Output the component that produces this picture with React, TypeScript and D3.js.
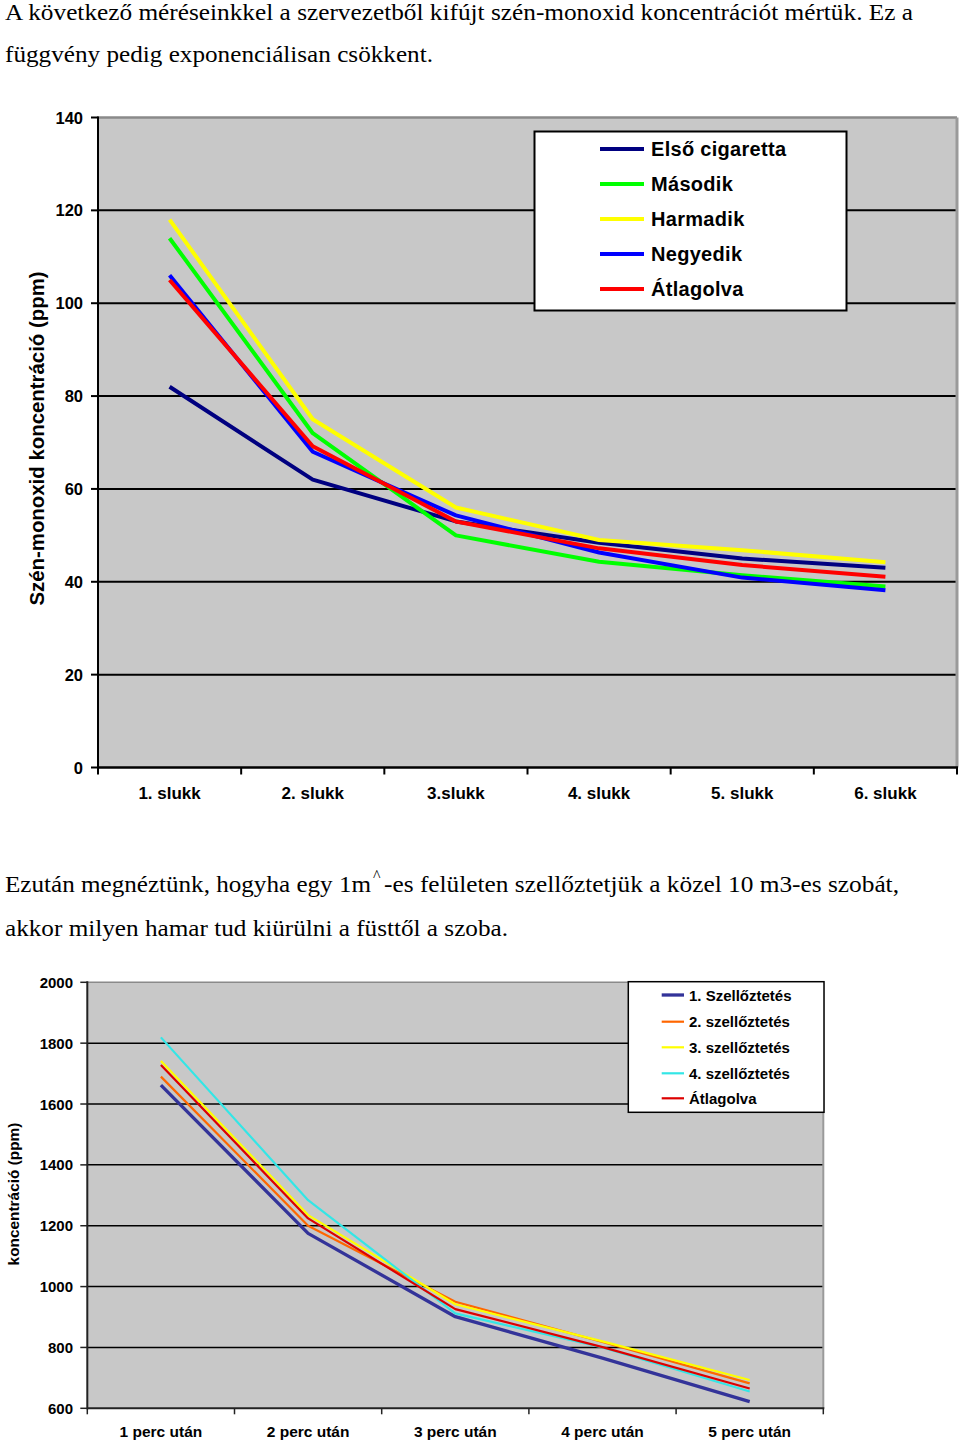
import React from "react";
import * as d3 from "d3";

// ---------- Data: chart 1 ----------
const puffs = ["1. slukk", "2. slukk", "3.slukk", "4. slukk", "5. slukk", "6. slukk"];
const elso = [82, 62, 53, 48.4, 45, 43];
const masodik = [114, 72, 50, 44.3, 41.4, 39];
const harmadik = [118, 75, 56, 49, 46.8, 44.2];
const negyedik = [106, 68, 54.3, 46.3, 40.9, 38.2];
const atlag1 = [105, 69.2, 53, 47.2, 43.6, 41.1];
const yTicks1 = [0, 20, 40, 60, 80, 100, 120, 140];

// ---------- Data: chart 2 ----------
const minutes = ["1 perc után", "2 perc után", "3 perc után", "4 perc után", "5 perc után"];
const szell1 = [1662, 1175, 901, 765, 622];
const szell2 = [1690, 1200, 950, 818, 682];
const szell3 = [1741, 1235, 942, 820, 693];
const szell4 = [1819, 1284, 912, 800, 655];
const atlag2 = [1728, 1224, 926, 801, 665];
const yTicks2 = [600, 800, 1000, 1200, 1400, 1600, 1800, 2000];

const series1 = [
  { name: "Első cigaretta", values: elso, color: "#000080" },
  { name: "Második", values: masodik, color: "#00ff00" },
  { name: "Harmadik", values: harmadik, color: "#ffff00" },
  { name: "Negyedik", values: negyedik, color: "#0000ff" },
  { name: "Átlagolva", values: atlag1, color: "#ff0000" },
];

const series2 = [
  { name: "1. Szellőztetés", values: szell1, color: "#333399", w: 3.3 },
  { name: "2. szellőztetés", values: szell2, color: "#ff6600", w: 2.2 },
  { name: "3. szellőztetés", values: szell3, color: "#ffff00", w: 2.2 },
  { name: "4. szellőztetés", values: szell4, color: "#33e6e6", w: 2.2 },
  { name: "Átlagolva", values: atlag2, color: "#dd0000", w: 2.2 },
];

const SANS = "'Liberation Sans', Arial, sans-serif";
const SERIF = "'Liberation Serif', 'Times New Roman', serif";

function Chart1() {
  const L = 98, R = 957, T = 117.5, B = 767.5;
  const x = d3.scaleBand<string>().domain(puffs).range([L, R]).padding(0);
  const y = d3.scaleLinear().domain([0, 140]).range([B, T]);
  const line = d3
    .line<number>()
    .x((_, i) => (x(puffs[i]) as number) + x.bandwidth() / 2)
    .y((d) => y(d));
  const bounds = puffs.map((p) => x(p) as number).concat([R]);
  return (
    <g>
      <rect x={L} y={T} width={R - L} height={B - T} fill="#c8c8c8" />
      {yTicks1
        .filter((t) => t > 0 && t < 140)
        .map((t) => (
          <line key={t} x1={L} x2={R} y1={y(t)} y2={y(t)} stroke="#000" strokeWidth={2} />
        ))}
      <line x1={L} x2={R} y1={T} y2={T} stroke="#8a8a8a" strokeWidth={2.5} />
      <line x1={R} x2={R} y1={T} y2={B} stroke="#9a9a9a" strokeWidth={3} />
      {series1.map((s) => (
        <path
          key={s.name}
          d={line(s.values) as string}
          fill="none"
          stroke={s.color}
          strokeWidth={4}
          strokeLinejoin="round"
        />
      ))}
      <line x1={L} x2={L} y1={T - 1} y2={B + 1} stroke="#000" strokeWidth={2} />
      <line x1={L} x2={R + 1} y1={B} y2={B} stroke="#000" strokeWidth={2.5} />
      {yTicks1.map((t) => (
        <g key={t}>
          <line x1={L - 7} x2={L} y1={y(t)} y2={y(t)} stroke="#000" strokeWidth={2} />
          <text
            x={83}
            y={y(t)}
            textAnchor="end"
            dominantBaseline="central"
            fontFamily={SANS}
            fontWeight="bold"
            fontSize={16.5}
          >
            {t}
          </text>
        </g>
      ))}
      {bounds.map((b, i) => (
        <line key={i} x1={b} x2={b} y1={B} y2={B + 7} stroke="#000" strokeWidth={2} />
      ))}
      {puffs.map((p) => (
        <text
          key={p}
          x={(x(p) as number) + x.bandwidth() / 2}
          y={799}
          textAnchor="middle"
          fontFamily={SANS}
          fontWeight="bold"
          fontSize={17}
        >
          {p}
        </text>
      ))}
      <text
        transform="translate(37,438.5) rotate(-90)"
        textAnchor="middle"
        dominantBaseline="central"
        fontFamily={SANS}
        fontWeight="bold"
        fontSize={20.4}
      >
        Szén-monoxid koncentráció (ppm)
      </text>
      {/* legend */}
      <rect x={534.5} y={131.5} width={312} height={179} fill="#fff" stroke="#000" strokeWidth={2} />
      {series1.map((s, i) => (
        <g key={s.name}>
          <line x1={600} x2={644} y1={149 + i * 35} y2={149 + i * 35} stroke={s.color} strokeWidth={4} />
          <text
            x={651}
            y={149 + i * 35}
            dominantBaseline="central"
            fontFamily={SANS}
            fontWeight="bold"
            fontSize={20}
            letterSpacing={0.3}
          >
            {s.name}
          </text>
        </g>
      ))}
    </g>
  );
}

function Chart2() {
  const L = 87.3, R = 823.3, T = 982.3, B = 1408.3;
  const x = d3.scaleBand<string>().domain(minutes).range([L, R]).padding(0);
  const y = d3.scaleLinear().domain([600, 2000]).range([B, T]);
  const line = d3
    .line<number>()
    .x((_, i) => (x(minutes[i]) as number) + x.bandwidth() / 2)
    .y((d) => y(d));
  const bounds = minutes.map((p) => x(p) as number).concat([R]);
  return (
    <g>
      <rect x={L} y={T} width={R - L} height={B - T} fill="#c8c8c8" />
      {yTicks2
        .filter((t) => t > 600 && t < 2000)
        .map((t) => (
          <line key={t} x1={L} x2={R} y1={y(t)} y2={y(t)} stroke="#000" strokeWidth={1.5} />
        ))}
      <line x1={L} x2={R} y1={T} y2={T} stroke="#8a8a8a" strokeWidth={1.5} />
      <line x1={R} x2={R} y1={T} y2={B} stroke="#9a9a9a" strokeWidth={2} />
      {series2.map((s) => (
        <path
          key={s.name}
          d={line(s.values) as string}
          fill="none"
          stroke={s.color}
          strokeWidth={s.w}
          strokeLinejoin="round"
        />
      ))}
      <line x1={L} x2={L} y1={T - 1} y2={B + 1} stroke="#222" strokeWidth={2} />
      <line x1={L} x2={R + 1} y1={B} y2={B} stroke="#222" strokeWidth={2} />
      {yTicks2.map((t) => (
        <g key={t}>
          <line x1={L - 7} x2={L} y1={y(t)} y2={y(t)} stroke="#222" strokeWidth={1.5} />
          <text
            x={73}
            y={y(t)}
            textAnchor="end"
            dominantBaseline="central"
            fontFamily={SANS}
            fontWeight="bold"
            fontSize={15}
          >
            {t}
          </text>
        </g>
      ))}
      {bounds.map((b, i) => (
        <line key={i} x1={b} x2={b} y1={B} y2={B + 6} stroke="#222" strokeWidth={1.5} />
      ))}
      {minutes.map((p) => (
        <text
          key={p}
          x={(x(p) as number) + x.bandwidth() / 2}
          y={1437}
          textAnchor="middle"
          fontFamily={SANS}
          fontWeight="bold"
          fontSize={15.5}
        >
          {p}
        </text>
      ))}
      <text
        transform="translate(13,1194) rotate(-90)"
        textAnchor="middle"
        dominantBaseline="central"
        fontFamily={SANS}
        fontWeight="bold"
        fontSize={15.4}
      >
        koncentráció (ppm)
      </text>
      {/* legend */}
      <rect x={628.3} y={981.7} width={195.7} height={130.6} fill="#fff" stroke="#000" strokeWidth={1.5} />
      {series2.map((s, i) => {
        const ry = [995, 1021.7, 1047.3, 1073.3, 1098.3][i];
        return (
          <g key={s.name}>
            <line x1={661.7} x2={684} y1={ry} y2={ry} stroke={s.color} strokeWidth={s.w} />
            <text
              x={689}
              y={ry}
              dominantBaseline="central"
              fontFamily={SANS}
              fontWeight="bold"
              fontSize={15}
            >
              {s.name}
            </text>
          </g>
        );
      })}
    </g>
  );
}

export default function App() {
  const textStyle = { fontFamily: SERIF, fontSize: 23.5, fill: "#000" };
  return (
    <div style={{ position: "absolute", left: 0, top: 0 }}>
      <svg width={960} height={1442} style={{ display: "block", background: "#fff" }}>
        <text x={5} y={20} {...textStyle} textLength={908} lengthAdjust="spacingAndGlyphs">
          A következő méréseinkkel a szervezetből kifújt szén-monoxid koncentrációt mértük. Ez a
        </text>
        <text x={5} y={62} {...textStyle} textLength={428} lengthAdjust="spacingAndGlyphs">
          függvény pedig exponenciálisan csökkent.
        </text>
        <Chart1 />
        <text x={5} y={892} {...textStyle} textLength={366} lengthAdjust="spacingAndGlyphs">
          Ezután megnéztünk, hogyha egy 1m
        </text>
        <text x={373} y={881} fontFamily={SERIF} fontSize={16}>
          ^
        </text>
        <text x={384} y={892} {...textStyle} textLength={515} lengthAdjust="spacingAndGlyphs">
          -es felületen szellőztetjük a közel 10 m3-es szobát,
        </text>
        <text x={5} y={936} {...textStyle} textLength={503} lengthAdjust="spacingAndGlyphs">
          akkor milyen hamar tud kiürülni a füsttől a szoba.
        </text>
        <Chart2 />
      </svg>
    </div>
  );
}
